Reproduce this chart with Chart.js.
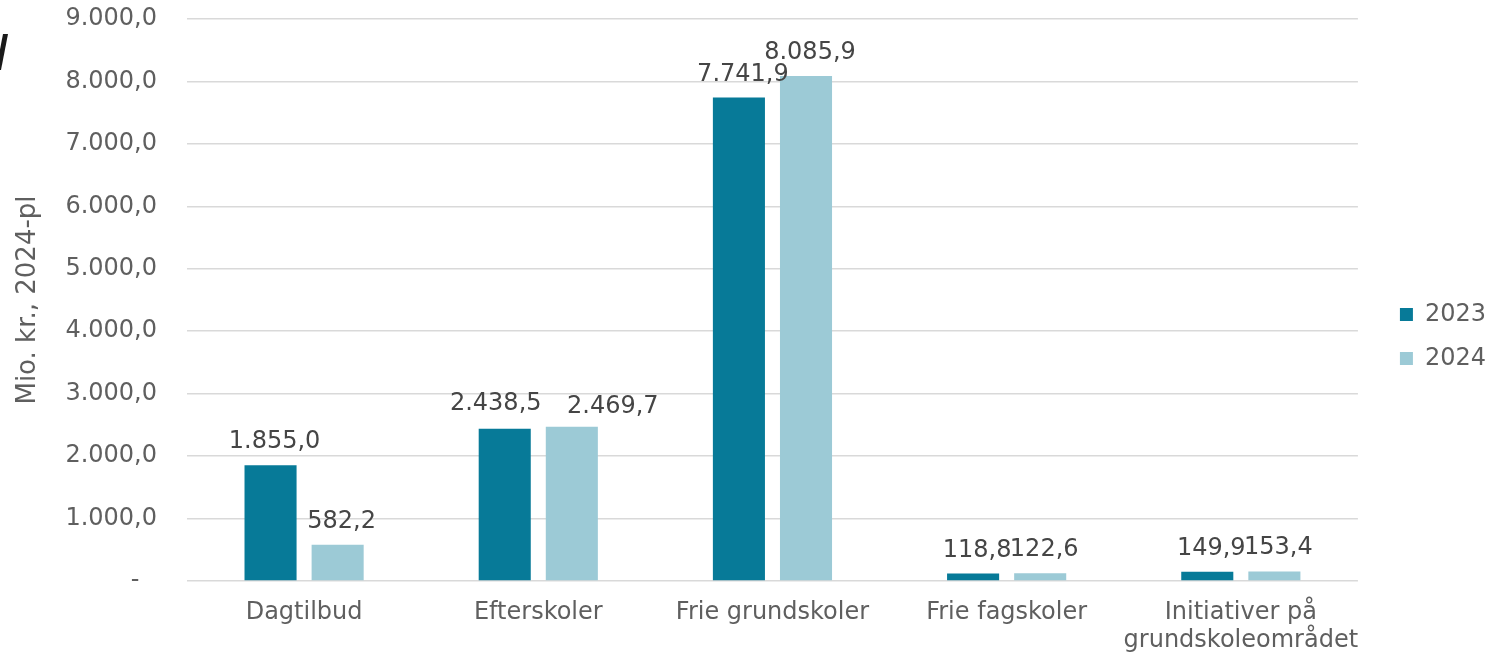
<!DOCTYPE html>
<html>
<head>
<meta charset="utf-8">
<script src="https://cdn.jsdelivr.net/npm/chart.js@4"></script>
<style>
  html, body { margin: 0; padding: 0; background: #fff; }
  #wrap { position: relative; width: 1502px; height: 654px; overflow: hidden; }
  /* piece of a cut-off heading at the very left edge */
  #cut { position: absolute; left: -4px; top: 34px; width: 5px; height: 36px; background: #1a1a1a;
         transform: skewX(-11deg); transform-origin: bottom left; }
</style>
</head>
<body>
<div id="wrap">
  <div id="cut"></div>
  <canvas id="budgetChart"></canvas>
</div>
<script>
// Bevillinger pr. område, mio. kr. (2024-pl)

const categories = ["Dagtilbud", "Efterskoler", "Frie grundskoler", "Frie fagskoler", ["Initiativer på", "grundskoleområdet"]];
const seriesNames = ["2023", "2024"];
const values2023 = [1855.0, 2438.5, 7741.9, 118.8, 149.9];
const values2024 = [582.2, 2469.7, 8085.9, 122.6, 153.4];
const yMin = 0;
const yMax = 9000;
const yStep = 1000;

const COLORS = {
    dark:     "#077A98",
    light:    "#9CCAD6",
    text:     "#5F5F5F",
    label:    "#454545",
    gridLine: "#D9D9D9",
};

Chart.defaults.font.family = "'DejaVu Sans', Verdana, sans-serif";
Chart.defaults.font.size = 24;

// Danish number format: 8.085,9
function fmtDa(v) {
    const [i, d] = Math.abs(v).toFixed(1).split(".");
    return i.replace(/\B(?=(\d{3})+(?!\d))/g, ".") + "," + d;
}

// Value above every bar. Labels in Efterskoler were pulled apart by hand in the original.
const valueLabels = {
    id: "valueLabels",
    afterDatasetsDraw(chart, args, opts) {
        const { ctx } = chart;
        ctx.save();
        ctx.font = "24px 'DejaVu Sans', Verdana, sans-serif";
        ctx.fillStyle = COLORS.label;
        ctx.textAlign = "center";
        ctx.textBaseline = "alphabetic";
        chart.data.datasets.forEach((ds, i) => {
            chart.getDatasetMeta(i).data.forEach((bar, j) => {
                const nudge = opts.nudge[i + "-" + j] || [opts.dx, 0];
                ctx.fillText(fmtDa(ds.data[j]), bar.x + nudge[0], bar.y - opts.gap + nudge[1]);
            });
        });
        ctx.restore();
    }
};

const barStyle = { borderWidth: 0, categoryPercentage: 0.573, barPercentage: 0.776 };

new Chart(document.getElementById("budgetChart"), {
    type: "bar",
    data: {
        labels: categories,
        datasets: [
            { label: seriesNames[0], data: values2023, backgroundColor: COLORS.dark,  ...barStyle },
            { label: seriesNames[1], data: values2024, backgroundColor: COLORS.light, ...barStyle },
        ]
    },
    options: {
        responsive: true,
        maintainAspectRatio: false,
        animation: false,
        layout: { padding: { left: 9, top: 19, right: 6, bottom: 0 } },
        scales: {
            x: {
                grid:   { display: false, drawTicks: false },
                border: { display: false },
                ticks:  { color: COLORS.text, padding: 17, maxRotation: 0, autoSkip: false },
                afterFit(s) { s.height = 73; },
            },
            y: {
                min: yMin,
                max: yMax,
                grid:   { color: COLORS.gridLine, lineWidth: 1.5, drawTicks: false },
                border: { display: false },
                ticks: {
                    stepSize: yStep,
                    padding: 30,
                    color: COLORS.text,
                    // zero is shown as a dash, like the accounting format
                    callback: v => v === 0 ? "-\u2007\u200A" : fmtDa(v),
                },
                title: {
                    display: true,
                    text: "Mio. kr., 2024-pl",
                    color: COLORS.text,
                    font: { size: 26 },
                    padding: { top: 4, bottom: 4 },
                },
                afterFit(s) {
                    s.width = 178;
                    // tick padding would otherwise push the plot top down
                    s.paddingTop = 0;
                    s.paddingBottom = 0;
                },
            },
            // empty axis, only keeps a gap between plot and legend
            gap: {
                type: "linear",
                position: "right",
                display: true,
                grid:   { display: false, drawTicks: false },
                border: { display: false },
                ticks:  { display: false },
                afterFit(s) { s.width = 22; },
            },
        },
        plugins: {
            legend: {
                position: "right",
                maxHeight: 616,
                labels: { boxWidth: 13, boxHeight: 13, padding: 20, color: COLORS.text },
            },
            tooltip: { enabled: false },
            valueLabels: {
                gap: 17,
                dx: 4,
                nudge: { "0-1": [-9, -2], "1-1": [41, 3] },
            },
        }
    },
    plugins: [valueLabels]
});
</script>
</body>
</html>
